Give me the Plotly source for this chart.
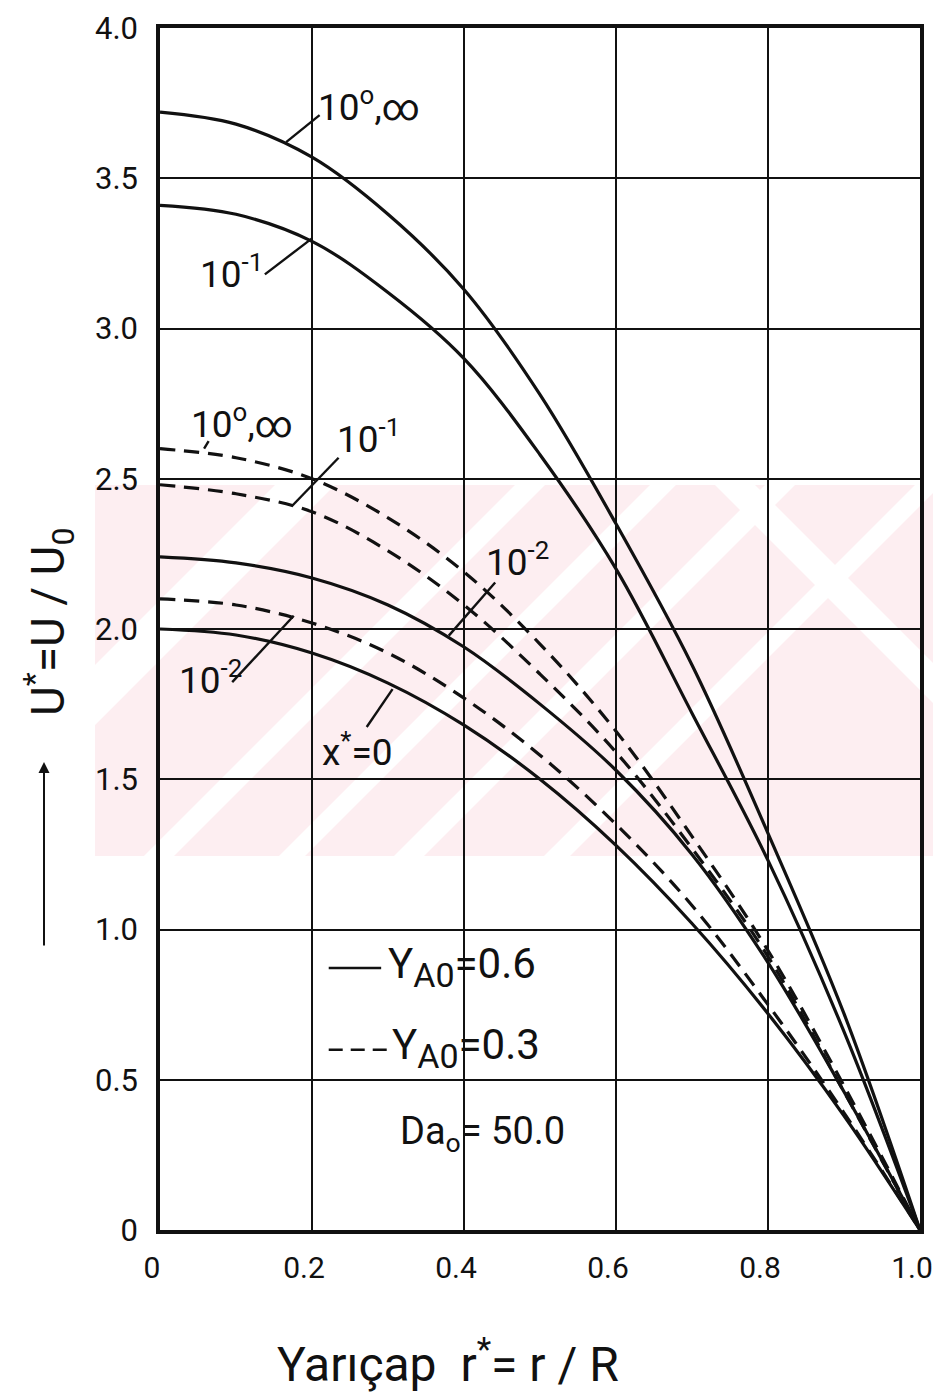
import plotly.graph_objects as go

# Dimensionless radius r* = r / R
r_star = [0.0, 0.1, 0.2, 0.3, 0.4, 0.5, 0.6, 0.7, 0.8, 0.9, 1.0]

# Axial velocity profiles U* = U / U0, y_A0 = 0.6 (solid)
u_06_x1 = [3.72, 3.68, 3.57, 3.38, 3.13, 2.78, 2.35, 1.88, 1.32, 0.72, 0.0]   # x* = 10^0, inf
u_06_x01 = [3.41, 3.38, 3.29, 3.12, 2.90, 2.58, 2.20, 1.72, 1.23, 0.66, 0.0]  # x* = 10^-1
u_06_x001 = [2.24, 2.22, 2.17, 2.08, 1.94, 1.75, 1.53, 1.25, 0.89, 0.46, 0.0] # x* = 10^-2
u_x0 = [2.00, 1.98, 1.92, 1.82, 1.68, 1.50, 1.28, 1.02, 0.72, 0.38, 0.0]      # x* = 0 (inlet)

# y_A0 = 0.3 (dashed)
u_03_x1 = [2.60, 2.57, 2.50, 2.37, 2.19, 1.95, 1.66, 1.31, 0.93, 0.48, 0.0]
u_03_x01 = [2.48, 2.45, 2.39, 2.26, 2.08, 1.85, 1.59, 1.27, 0.91, 0.46, 0.0]
u_03_x001 = [2.10, 2.08, 2.02, 1.92, 1.77, 1.58, 1.35, 1.08, 0.75, 0.39, 0.0]

x_ticks = [0, 0.2, 0.4, 0.6, 0.8, 1.0]
x_ticktext = ["0", "0.2", "0.4", "0.6", "0.8", "1.0"]
y_ticks = [0, 0.5, 1.0, 1.5, 2.0, 2.5, 3.0, 3.5, 4.0]
y_ticktext = ["0", "0.5", "1.0", "1.5", "2.0", "2.5", "3.0", "3.5", "4.0"]

FONT = "Roboto, 'Noto Sans', sans-serif"
INK = "#111111"

W, H = 933, 1396
L, R_, T, B = 160, 13, 28, 166
PW, PH = W - L - R_, H - T - B


def px(xp):
    return (xp - L) / PW


def py(yp):
    return (T + PH - yp) / PH


fig = go.Figure()

solid = [u_06_x1, u_06_x01, u_06_x001, u_x0]
dashed = [u_03_x1, u_03_x01, u_03_x001]
for u in solid:
    fig.add_trace(go.Scatter(x=r_star, y=u, mode="lines",
                             line=dict(color=INK, width=3.2, shape="spline", smoothing=1.0),
                             showlegend=False, hoverinfo="skip"))
for u in dashed:
    fig.add_trace(go.Scatter(x=r_star, y=u, mode="lines",
                             line=dict(color=INK, width=3.2, shape="spline", smoothing=1.0,
                                       dash="15px,9px"),
                             showlegend=False, hoverinfo="skip"))

shapes = []

# faint pink background band with a few pale diagonal stripes
PINK = "#fdeef1"
TOP_B, BOT_B = 485, 856
shapes.append(dict(type="rect", xref="paper", yref="paper", layer="below",
                   x0=px(95), x1=px(W), y0=py(BOT_B), y1=py(TOP_B),
                   fillcolor=PINK, line=dict(width=0)))


def band(pts):
    return "M " + " L ".join(f"{px(a):.4f},{py(b):.4f}" for a, b in pts) + " Z"


for s, w in [(760, 60), (1000, 30), (1135, 26), (1250, 30), (1400, 26)]:
    pts = [(s - BOT_B, BOT_B), (s - TOP_B, TOP_B), (s - TOP_B + w, TOP_B), (s - BOT_B + w, BOT_B)]
    shapes.append(dict(type="path", xref="paper", yref="paper", layer="below",
                       path=band(pts), fillcolor="white", line=dict(width=0)))
for s, w in [(230, 40)]:
    pts = [(TOP_B + s, TOP_B), (BOT_B + s, BOT_B), (BOT_B + s + w, BOT_B), (TOP_B + s + w, TOP_B)]
    shapes.append(dict(type="path", xref="paper", yref="paper", layer="below",
                       path=band(pts), fillcolor="white", line=dict(width=0)))

# leader lines from labels to curves
leaders = [
    (0.166, 3.62, 0.21, 3.71),
    (0.138, 3.18, 0.20, 3.30),
    (0.174, 2.41, 0.235, 2.57),
    (0.095, 1.823, 0.176, 2.044),
    (0.272, 1.674, 0.306, 1.80),
    (0.38, 1.978, 0.441, 2.155),
    (0.058, 2.60, 0.064, 2.625),
]
for x0, y0, x1, y1 in leaders:
    shapes.append(dict(type="line", xref="x", yref="y", x0=x0, y0=y0, x1=x1, y1=y1,
                       line=dict(color=INK, width=2.4)))

# legend samples
shapes.append(dict(type="line", xref="x", yref="y", x0=0.222, x1=0.291, y0=0.872, y1=0.872,
                   line=dict(color=INK, width=2.4)))
shapes.append(dict(type="line", xref="x", yref="y", x0=0.222, x1=0.305, y0=0.60, y1=0.60,
                   line=dict(color=INK, width=2.4, dash="14px,8px")))

annotations = []


def label(x, y, text, size=37, anchor="left"):
    annotations.append(dict(x=x, y=y, xref="x", yref="y", text=text, showarrow=False,
                            xanchor=anchor, yanchor="middle",
                            font=dict(family=FONT, size=size, color=INK)))


label(0.205, 3.745, "10<sup>o</sup>,∞")
label(0.050, 3.19, "10<sup>-1</sup>")
label(0.038, 2.69, "10<sup>o</sup>,∞")
label(0.230, 2.64, "10<sup>-1</sup>")
label(0.426, 2.23, "10<sup>-2</sup>")
label(0.022, 1.84, "10<sup>-2</sup>")
label(0.210, 1.60, "x<sup>*</sup>=0")

SUB = '<sub><span style="font-size:34px">A0</span></sub>'
label(0.298, 0.875, "Y" + SUB + "=0.6", size=42)
label(0.303, 0.605, "Y" + SUB + "=0.3", size=42)
label(0.313, 0.32, "Da<sub>o</sub>= 50.0", size=38)

# axis titles
annotations.append(dict(x=px(48), y=py(622), xref="paper", yref="paper",
                        text="U<sup>*</sup>=U / U<sub>0</sub>", textangle=-90,
                        showarrow=False, xanchor="center", yanchor="middle",
                        font=dict(family=FONT, size=46, color=INK)))
annotations.append(dict(x=px(44), y=py(762), xref="paper", yref="paper", text="",
                        showarrow=True, ax=0, ay=185, arrowhead=2, arrowsize=1.1,
                        arrowwidth=2, arrowcolor=INK))
annotations.append(dict(x=px(448), y=py(1362), xref="paper", yref="paper",
                        text="Yarıçap  r<sup>*</sup>= r / R",
                        showarrow=False, xanchor="center", yanchor="middle",
                        font=dict(family=FONT, size=48, color=INK)))

fig.update_layout(
    width=W, height=H,
    margin=dict(l=L, r=R_, t=T, b=B, pad=0, autoexpand=False),
    paper_bgcolor="white", plot_bgcolor="rgba(0,0,0,0)",
    shapes=shapes, annotations=annotations,
    font=dict(family=FONT, size=30, color=INK),
    xaxis=dict(range=[0, 1], tickvals=x_ticks, ticktext=x_ticktext,
               showgrid=True, gridcolor=INK, gridwidth=1.6,
               showline=True, linecolor=INK, linewidth=3.5, mirror=True,
               ticks="outside", ticklen=8, tickcolor="rgba(0,0,0,0)",
               ticklabeloverflow="allow", ticklabelshift=-8, automargin=False,
               zeroline=False, tickfont=dict(family=FONT, size=30, color=INK)),
    yaxis=dict(range=[0, 4], tickvals=y_ticks, ticktext=y_ticktext,
               showgrid=True, gridcolor=INK, gridwidth=1.6,
               showline=True, linecolor=INK, linewidth=3.5, mirror=True,
               ticks="outside", ticklen=12, tickcolor="rgba(0,0,0,0)",
               automargin=False,
               zeroline=False, tickfont=dict(family=FONT, size=31, color=INK)),
)

fig.write_html("out.html")
